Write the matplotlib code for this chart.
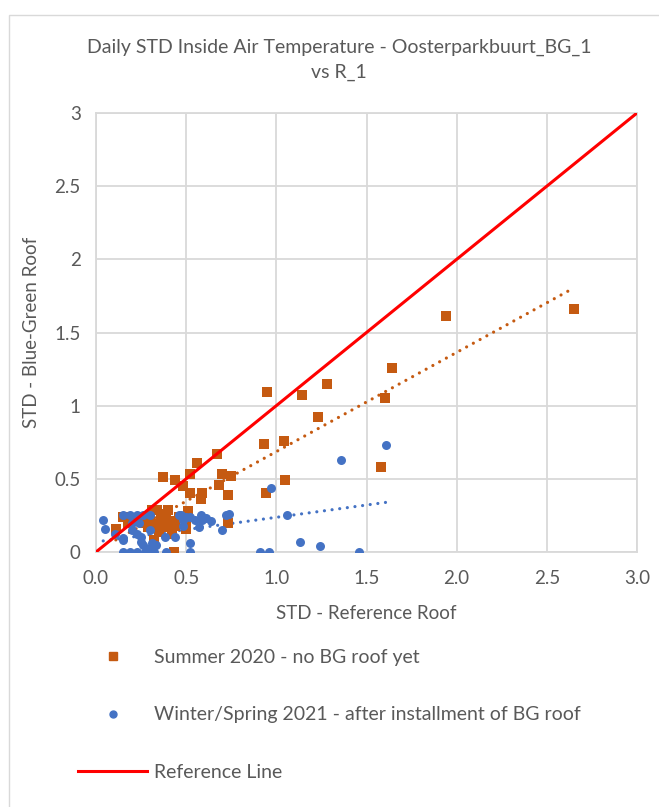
import matplotlib
matplotlib.use("Agg")
import matplotlib.pyplot as plt
import numpy as np
from matplotlib.lines import Line2D
from matplotlib.patches import Rectangle

# Summer 2020 (before blue-green roof): STD reference roof vs STD BG roof
summer_ref = [2.65, 1.94, 1.64, 1.28, 1.14, 1.60, 1.23, 0.95, 1.04, 0.93,
              1.58, 1.05, 0.94, 0.67, 0.56, 0.37, 0.52, 0.44, 0.48, 0.70,
              0.75, 0.68, 0.52, 0.59, 0.58, 0.73, 0.51, 0.40, 0.34, 0.15,
              0.11, 0.73, 0.50, 0.32, 0.43, 0.21, 0.18, 0.27, 0.30, 0.33,
              0.36, 0.38, 0.41, 0.44, 0.35, 0.29, 0.46, 0.39, 0.31, 0.26,
              0.42, 0.50]
summer_bg = [1.66, 1.61, 1.26, 1.15, 1.07, 1.05, 0.92, 1.09, 0.76, 0.74,
             0.58, 0.49, 0.40, 0.67, 0.61, 0.51, 0.53, 0.49, 0.45, 0.53,
             0.52, 0.46, 0.40, 0.40, 0.36, 0.39, 0.28, 0.29, 0.29, 0.24,
             0.16, 0.20, 0.16, 0.08, 0.00, 0.22, 0.20, 0.20, 0.24, 0.19,
             0.23, 0.17, 0.21, 0.18, 0.14, 0.17, 0.24, 0.26, 0.29, 0.24,
             0.12, 0.22]

# Winter/Spring 2021 (after installment of BG roof)
winter_ref = [1.61, 1.36, 0.97, 1.06, 1.13, 1.24, 1.46, 0.91, 0.96, 0.72,
              0.74, 0.70, 0.57, 0.48, 0.52, 0.55, 0.58, 0.61, 0.64, 0.52,
              0.52, 0.04, 0.05, 0.15, 0.19, 0.23, 0.26, 0.30, 0.24, 0.20,
              0.15, 0.19, 0.23, 0.27, 0.32, 0.39, 0.105, 0.15, 0.23, 0.25,
              0.30, 0.26, 0.31, 0.30, 0.33, 0.38, 0.44, 0.47, 0.50, 0.48,
              0.59, 0.30, 0.25, 0.20, 0.15, 0.46]
winter_bg = [0.73, 0.63, 0.44, 0.25, 0.07, 0.04, 0.00, 0.00, 0.00, 0.25,
             0.26, 0.15, 0.17, 0.22, 0.24, 0.22, 0.25, 0.23, 0.21, 0.06,
             0.00, 0.22, 0.16, 0.25, 0.25, 0.25, 0.25, 0.25, 0.20, 0.20,
             0.00, 0.00, 0.00, 0.00, 0.00, 0.00, 0.12, 0.095, 0.12, 0.07,
             0.15, 0.05, 0.06, 0.01, 0.05, 0.10, 0.10, 0.25, 0.24, 0.18,
             0.22, 0.03, 0.10, 0.15, 0.08, 0.25]

# linear trendlines (slope, intercept) as shown in the chart
summer_trend = (0.678, 0.008)
winter_trend = (0.168, 0.069)

x_ticks = [0.0, 0.5, 1.0, 1.5, 2.0, 2.5, 3.0]
y_ticks = [0, 0.5, 1, 1.5, 2, 2.5, 3]

orange = "#C55A11"
blue = "#4472C4"
red = "#FF0000"
grey_txt = "#595959"
grid_c = "#D9D9D9"

plt.rcParams["font.family"] = ["Lato", "DejaVu Sans"]

fig = plt.figure(figsize=(6.59, 8.07), dpi=100)
fig.patches.append(Rectangle((9 / 659, -0.01), 1.0, 1 - 15 / 807 + 0.01,
                             transform=fig.transFigure, fill=False,
                             edgecolor=grid_c, linewidth=1.0))

ax = fig.add_axes([96 / 659, 1 - 552 / 807, (637 - 96) / 659, (552 - 113) / 807])

ax.scatter(summer_ref, summer_bg, marker="s", s=46, color=orange, zorder=3,
           linewidths=0)
ax.scatter(winter_ref, winter_bg, marker="o", s=42, color=blue, zorder=3,
           linewidths=0)

# trendlines over the data range
dot_style = dict(linestyle=(0, (0.01, 2.4)), dash_capstyle="round", linewidth=2.3, zorder=2)
xs = np.linspace(min(summer_ref), max(summer_ref), 50)
ax.plot(xs, summer_trend[0] * xs + summer_trend[1], color=orange, **dot_style)
xw = np.linspace(min(winter_ref), max(winter_ref), 50)
ax.plot(xw, winter_trend[0] * xw + winter_trend[1], color=blue, **dot_style)

# reference line y = x
ax.plot([0, 3], [0, 3], color=red, linewidth=2.2, zorder=4)

ax.set_xlim(0, 3)
ax.set_ylim(0, 3)
ax.set_xticks(x_ticks)
ax.set_xticklabels([f"{v:.1f}" for v in x_ticks])
ax.set_yticks(y_ticks)
ax.set_yticklabels([f"{v:g}" for v in y_ticks])
ax.tick_params(length=0, labelsize=13.5, labelcolor=grey_txt)
ax.tick_params(axis="x", pad=13)
ax.tick_params(axis="y", pad=11)
ax.grid(True, color=grid_c, linewidth=1.3, zorder=0)
ax.set_axisbelow(True)
for sp in ax.spines.values():
    sp.set_color(grid_c)
    sp.set_linewidth(1.3)

ax.set_xlabel("STD - Reference Roof", fontsize=13.5, color=grey_txt, labelpad=13)
ax.set_ylabel("STD - Blue-Green Roof", fontsize=13.5, color=grey_txt, labelpad=10)

fig.text(339 / 659, 1 - 60 / 807, "Daily STD Inside Air Temperature - Oosterparkbuurt_BG_1\nvs R_1",
         ha="center", va="center", fontsize=14, color=grey_txt, linespacing=1.55)

handles = [
    Line2D([], [], linestyle="none", marker="s", markersize=5.5, color=orange),
    Line2D([], [], linestyle="none", marker="o", markersize=5, color=blue),
    Line2D([], [], color=red, linewidth=2.2),
]
labels = ["Summer 2020 - no BG roof yet",
          "Winter/Spring 2021 - after installment of BG roof",
          "Reference Line"]
fig.legend(handles, labels, loc="upper left", bbox_to_anchor=(78 / 659, 1 - 649 / 807),
           frameon=False, fontsize=14, labelcolor=grey_txt, handlelength=3.55,
           handletextpad=0.36, labelspacing=2.08, borderaxespad=0, borderpad=0)

fig.savefig("out.png", dpi=100)
